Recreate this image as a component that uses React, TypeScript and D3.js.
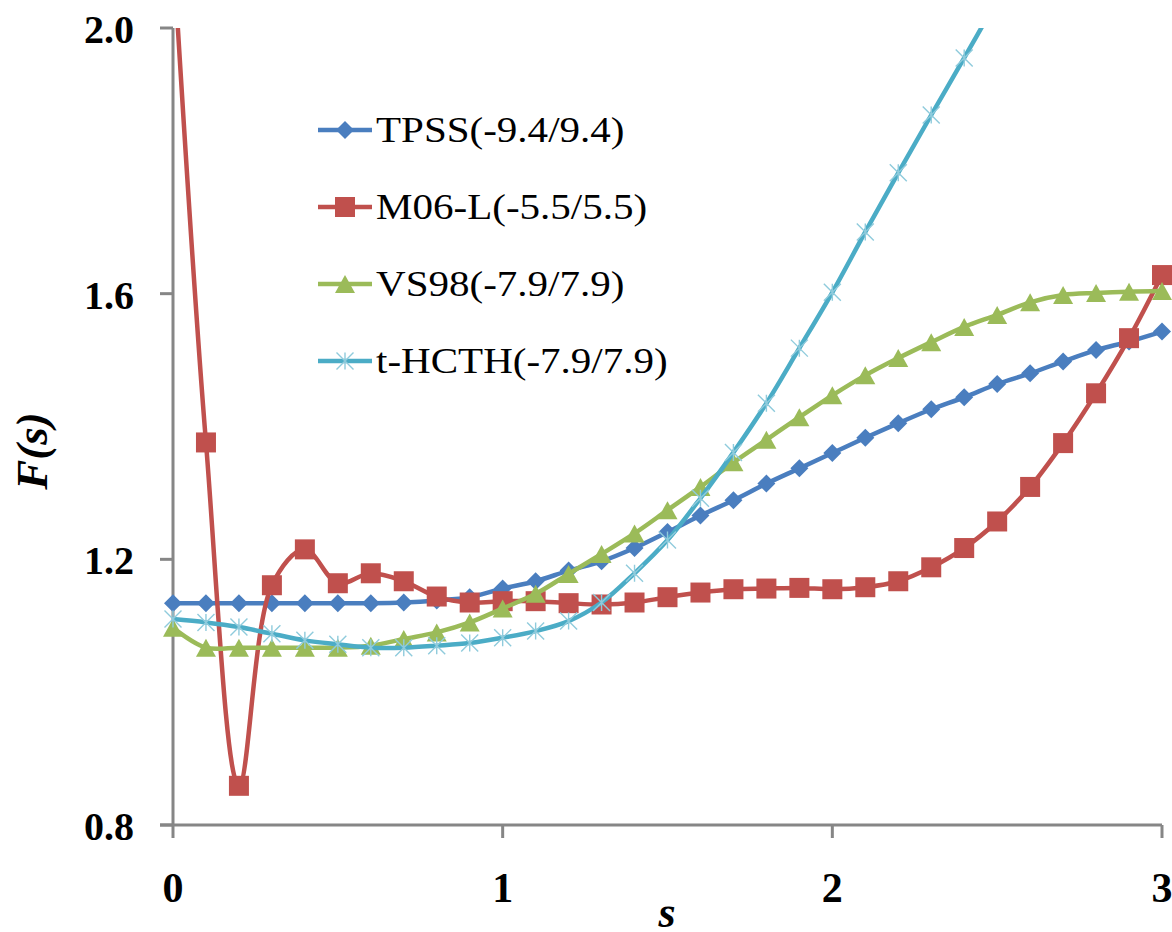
import React from "react";
import * as d3 from "d3";

const sValues = [0, 0.1, 0.2, 0.3, 0.4, 0.5, 0.6, 0.7, 0.8, 0.9, 1.0, 1.1, 1.2, 1.3, 1.4, 1.5, 1.6, 1.7, 1.8, 1.9, 2.0, 2.1, 2.2, 2.3, 2.4, 2.5, 2.6, 2.7, 2.8, 2.9, 3.0];

const tpss = [1.134, 1.134, 1.134, 1.134, 1.134, 1.134, 1.134, 1.135, 1.138, 1.143, 1.156, 1.167, 1.183, 1.197, 1.217, 1.241, 1.266, 1.289, 1.314, 1.337, 1.360, 1.383, 1.405, 1.426, 1.444, 1.464, 1.480, 1.498, 1.515, 1.528, 1.543];
const m06l = [2.12, 1.376, 0.859, 1.161, 1.215, 1.164, 1.179, 1.167, 1.144, 1.135, 1.137, 1.137, 1.134, 1.132, 1.135, 1.143, 1.150, 1.155, 1.156, 1.157, 1.155, 1.158, 1.167, 1.188, 1.217, 1.257, 1.309, 1.375, 1.450, 1.533, 1.628];
const vs98 = [1.097, 1.067, 1.067, 1.067, 1.067, 1.067, 1.070, 1.080, 1.090, 1.105, 1.126, 1.148, 1.178, 1.208, 1.239, 1.274, 1.309, 1.346, 1.380, 1.414, 1.447, 1.477, 1.503, 1.527, 1.550, 1.568, 1.587, 1.598, 1.601, 1.603, 1.604];
const thcth = [1.110, 1.105, 1.098, 1.088, 1.078, 1.072, 1.067, 1.067, 1.070, 1.074, 1.082, 1.092, 1.107, 1.135, 1.179, 1.229, 1.292, 1.361, 1.435, 1.518, 1.602, 1.693, 1.782, 1.869, 1.955, 2.042];

const seriesNames = ["TPSS(-9.4/9.4)", "M06-L(-5.5/5.5)", "VS98(-7.9/7.9)", "t-HCTH(-7.9/7.9)"];
const seriesColors = ["#4A7EBF", "#C0504D", "#9BBB59", "#4BACC6"];
const seriesMarkers = ["diamond", "square", "triangle", "star"];
const seriesData = [tpss, m06l, vs98, thcth];

const yTicks = [0.8, 1.2, 1.6, 2.0];
const xTicks = [0, 1, 2, 3];

const W = 1172;
const H = 932;

function Marker({ kind, x, y, color }: { kind: string; x: number; y: number; color: string }) {
  if (kind === "diamond") {
    const r = 9;
    return <path d={`M${x},${y - r}L${x + r},${y}L${x},${y + r}L${x - r},${y}Z`} fill={color} />;
  }
  if (kind === "square") {
    const h = 10;
    return <rect x={x - h} y={y - h} width={2 * h} height={2 * h} fill={color} />;
  }
  if (kind === "triangle") {
    const w = 10, hh = 9;
    return <path d={`M${x},${y - hh}L${x + w},${y + hh}L${x - w},${y + hh}Z`} fill={color} />;
  }
  const r = 8.5;
  return (
    <path
      d={`M${x - r},${y - r}L${x + r},${y + r}M${x - r},${y + r}L${x + r},${y - r}M${x},${y - r}L${x},${y + r}`}
      stroke="#8FCBDC"
      strokeWidth={1.4}
      fill="none"
    />
  );
}

export default function App() {
  const x = d3.scaleLinear().domain([0, 3]).range([173, 1162]);
  const y = d3.scaleLinear().domain([0.8, 2.0]).range([825, 28]);
  const line = d3
    .line<number>()
    .x((_, i) => x(sValues[i]))
    .y((d) => y(d))
    .curve(d3.curveCatmullRom.alpha(0.5));

  const axisColor = "#868686";
  const serif = "'Liberation Serif', 'Times New Roman', serif";

  return (
    <svg width={W} height={H} style={{ position: "absolute", left: 0, top: 0, background: "#fff" }}>
      <defs>
        <clipPath id="plotClip">
          <rect x={0} y={y(2.0)} width={W} height={y(0.8) - y(2.0) + 20} />
        </clipPath>
      </defs>
      <rect width={W} height={H} fill="#fff" />

      {/* axes */}
      <line x1={x(0)} x2={x(0)} y1={y(2.0)} y2={y(0.8)} stroke={axisColor} strokeWidth={3} />
      <line x1={x(0) - 13} x2={x(3)} y1={y(0.8)} y2={y(0.8)} stroke={axisColor} strokeWidth={3} />
      {yTicks.map((t) => (
        <g key={"yt" + t}>
          <line x1={x(0) - 13} x2={x(0)} y1={y(t)} y2={y(t)} stroke={axisColor} strokeWidth={3} />
          <text
            x={134}
            y={y(t) + 15}
            textAnchor="end"
            fontFamily={serif}
            fontWeight="bold"
            fontSize={40}
            fill="#000"
          >
            {t.toFixed(1)}
          </text>
        </g>
      ))}
      {xTicks.map((t) => (
        <g key={"xt" + t}>
          <line x1={x(t)} x2={x(t)} y1={y(0.8)} y2={y(0.8) + 13} stroke={axisColor} strokeWidth={3} />
          <text
            x={x(t)}
            y={902}
            textAnchor="middle"
            fontFamily={serif}
            fontWeight="bold"
            fontSize={42}
            fill="#000"
          >
            {t}
          </text>
        </g>
      ))}

      {/* axis titles */}
      <text
        transform={`translate(47,451) rotate(-90)`}
        textAnchor="middle"
        fontFamily={serif}
        fontWeight="bold"
        fontStyle="italic"
        fontSize={45}
        fill="#000"
      >
        F(s)
      </text>
      <text
        x={667}
        y={927}
        textAnchor="middle"
        fontFamily={serif}
        fontWeight="bold"
        fontStyle="italic"
        fontSize={44}
        fill="#000"
      >
        s
      </text>

      {/* series */}
      {seriesData.map((data, si) => (
        <g key={"s" + si}>
          <g clipPath="url(#plotClip)">
            <path d={line(data) || ""} fill="none" stroke={seriesColors[si]} strokeWidth={4.5} strokeLinejoin="round" />
          </g>
          {data.map((v, i) =>
            v <= 2.0 ? (
              <Marker key={i} kind={seriesMarkers[si]} x={x(sValues[i])} y={y(v)} color={seriesColors[si]} />
            ) : null
          )}
        </g>
      ))}

      {/* legend */}
      {seriesNames.map((name, i) => {
        const base = 142 + i * 77;
        const ly = base - 12;
        return (
          <g key={"lg" + i}>
            <line x1={318} x2={372} y1={ly} y2={ly} stroke={seriesColors[i]} strokeWidth={4.5} />
            <Marker kind={seriesMarkers[i]} x={345} y={ly} color={seriesColors[i]} />
            <g transform={`translate(376,${base}) scale(1.14,1)`}>
              <text x={0} y={0} fontFamily={serif} fontSize={36} fill="#000">
                {name}
              </text>
            </g>
          </g>
        );
      })}
    </svg>
  );
}
